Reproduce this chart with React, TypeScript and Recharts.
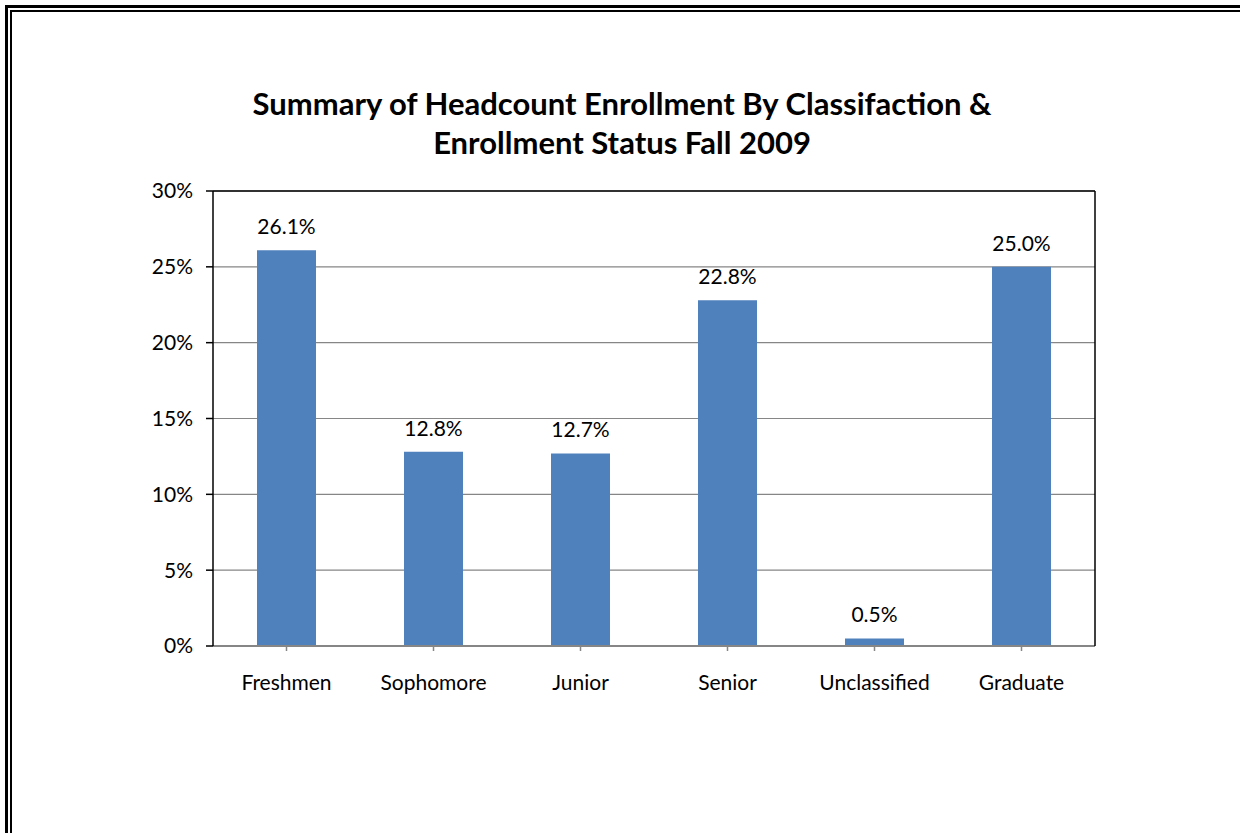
import React from 'react';
import { BarChart, Bar, XAxis, YAxis, CartesianGrid, LabelList, ReferenceLine } from 'recharts';

const categories = ['Freshmen', 'Sophomore', 'Junior', 'Senior', 'Unclassified', 'Graduate'];
const shares = [26.1, 12.8, 12.7, 22.8, 0.5, 25.0];
const yTicks = [0, 5, 10, 15, 20, 25, 30];

const data = categories.map((name, i) => ({ name, share: shares[i] }));

const FONT = 'Lato, "Open Sans", sans-serif';

export default function App() {
  return (
    <div style={{ position: 'absolute', left: 0, top: 0, width: 1240, height: 833, background: '#fff', overflow: 'hidden', fontFamily: FONT }}>
      {/* page border, double line */}
      <div style={{ position: 'absolute', left: 5, top: 5, width: 1300, height: 900, borderTop: '3px solid #000', borderLeft: '3px solid #000' }} />
      <div style={{ position: 'absolute', left: 10, top: 10, width: 1300, height: 900, borderTop: '2px solid #000', borderLeft: '2px solid #000' }} />

      <div style={{ position: 'absolute', left: 0, top: 84, width: 1244, textAlign: 'center', fontWeight: 700, fontSize: 31, lineHeight: '39px', color: '#000' }}>
        Summary of Headcount Enrollment By Classifaction &amp;<br />Enrollment Status Fall 2009
      </div>

      <BarChart
        width={1240}
        height={833}
        data={data}
        margin={{ top: 191, right: 144, bottom: 157, left: 153 }}
        style={{ position: 'absolute', left: 0, top: 0 }}
      >
        <CartesianGrid vertical={false} stroke="#868686" strokeWidth={1.2} />
        <XAxis
          dataKey="name"
          height={30}
          axisLine={{ stroke: '#868686', strokeWidth: 2 }}
          tickLine={{ stroke: '#868686', strokeWidth: 1.5 }}
          tickSize={5}
          tickMargin={24}
          tick={{ fill: '#000', fontSize: 21, fontFamily: FONT }}
          interval={0}
        />
        <YAxis
          width={60}
          domain={[0, 30]}
          ticks={yTicks}
          interval={0}
          tickFormatter={(v: number) => `${v}%`}
          axisLine={{ stroke: '#000', strokeWidth: 1.5 }}
          tickLine={{ stroke: '#000', strokeWidth: 1.5 }}
          tickSize={7}
          tickMargin={13}
          tick={{ fill: '#000', fontSize: 21, fontFamily: FONT }}
        />
        <YAxis
          yAxisId="right"
          orientation="right"
          width={1}
          domain={[0, 30]}
          ticks={yTicks}
          tick={false}
          tickLine={false}
          axisLine={{ stroke: '#000', strokeWidth: 1.5 }}
        />
        <ReferenceLine y={30} stroke="#000" strokeWidth={1.5} />
        <Bar dataKey="share" fill="#4F81BD" barSize={59} isAnimationActive={false}>
          <LabelList
            dataKey="share"
            position="top"
            offset={16}
            formatter={(v: number) => `${Number(v).toFixed(1)}%`}
            style={{ fill: '#000', fontSize: 21, fontFamily: FONT }}
          />
        </Bar>
      </BarChart>
    </div>
  );
}
